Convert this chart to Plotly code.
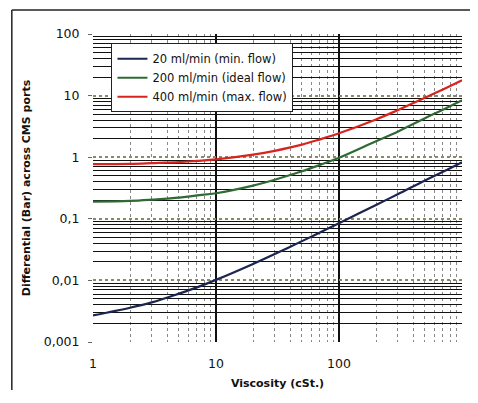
import plotly.graph_objects as go

viscosity = [1, 2, 3, 5, 7, 10, 20, 30, 50, 70, 100, 200, 300, 500, 700, 1000]
flow_20 = [0.0027, 0.0036, 0.0044, 0.0061, 0.0077, 0.0102, 0.0185, 0.0268, 0.0434, 0.060,
           0.085, 0.168, 0.25, 0.42, 0.58, 0.83]
flow_200 = [0.19, 0.196, 0.205, 0.22, 0.24, 0.26, 0.345, 0.43, 0.59, 0.75,
            0.98, 1.82, 2.6, 4.3, 5.9, 8.4]
flow_400 = [0.77, 0.78, 0.80, 0.83, 0.87, 0.92, 1.1, 1.27, 1.6, 1.95,
            2.45, 4.1, 5.8, 9.2, 12.6, 17.8]
series_names = ["20 ml/min (min. flow)", "200 ml/min (ideal flow)", "400 ml/min (max. flow)"]
series_colors = ["#1c2550", "#2f6a34", "#d8231e"]

x_tickvals = [1, 10, 100, 1000]
# trailing no-break spaces keep the last label inside the visible window
x_ticktext = ["1", "10", "100", "1000\u00a0\u00a0\u00a0\u00a0"]
y_tickvals = [0.001, 0.01, 0.1, 1, 10, 100]
y_ticktext = ["0,001", "0,01", "0,1", "1", "10", "100"]

x_minor = [m * d for d in [1, 10, 100] for m in range(2, 10)]
y_minor = [m * d for d in [0.001, 0.01, 0.1, 1, 10] for m in range(2, 10)]

fig = go.Figure()
for ys, name, col in zip([flow_20, flow_200, flow_400], series_names, series_colors):
    fig.add_trace(go.Scatter(x=viscosity, y=ys, mode="lines", name=name,
                             line=dict(color=col, width=2.2, shape="spline", smoothing=1.0)))

font_family = "DejaVu Sans, Verdana, sans-serif"
fig.update_layout(
    width=470, height=382,
    margin=dict(l=85, r=16, t=26, b=48, autoexpand=False),
    paper_bgcolor="white", plot_bgcolor="white",
    font=dict(family=font_family, size=12, color="#111"),
    showlegend=True,
    legend=dict(x=0.05, y=0.97, xanchor="left", yanchor="top",
                bgcolor="white", bordercolor="#222", borderwidth=1,
                font=dict(size=11.5, color="#111"), tracegroupgap=0,
                itemwidth=30),
    xaxis=dict(type="log", range=[0, 3], tickvals=x_tickvals, ticktext=x_ticktext,
               automargin=False,
               showgrid=True, gridcolor="#111", gridwidth=1.5,
               ticks="", showline=False, zeroline=False, ticklabelstandoff=12,
               tickfont=dict(size=12.5, family=font_family),
               minor=dict(tickvals=x_minor, showgrid=True, gridcolor="#888",
                          griddash="dot", gridwidth=1),
               title=dict(text="<b>Viscosity (cSt.)</b>", font=dict(size=11), standoff=9)),
    yaxis=dict(type="log", range=[-3, 2], tickvals=y_tickvals, ticktext=y_ticktext,
               automargin=False,
               showgrid=True, gridcolor="#8a8a60", gridwidth=1.5, griddash="dot",
               ticks="outside", ticklen=4, tickcolor="#666", showline=False, zeroline=False,
               ticklabelstandoff=6,
               tickfont=dict(size=12.5, family=font_family),
               minor=dict(tickvals=y_minor, showgrid=True, gridcolor="#111", gridwidth=1.2,
                          griddash="solid"),
               title=dict(text="<b>Differential (Bar) across CMS ports</b>", font=dict(size=11), standoff=10)),
)

# outer frame (left and top edges of the scanned box)
fig.add_shape(type="line", xref="paper", yref="paper", x0=-0.22, x1=1.05, y0=1.078, y1=1.078,
              line=dict(color="#222", width=1.5))
fig.add_shape(type="line", xref="paper", yref="paper", x0=-0.22, x1=-0.22, y0=1.078, y1=-0.2,
              line=dict(color="#222", width=1.5))

fig.write_html("out.html")
